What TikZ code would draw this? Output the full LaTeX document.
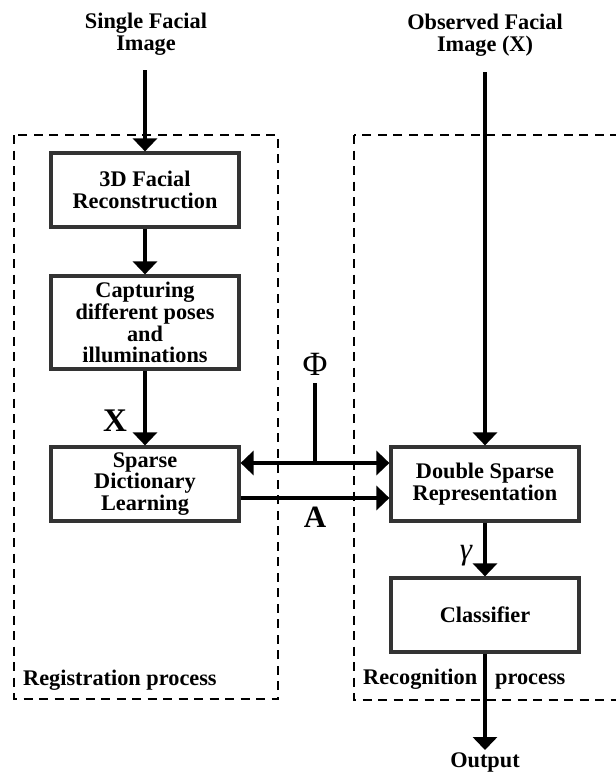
\documentclass[tikz,border=0pt]{standalone}
\usepackage{fontspec}
\setmainfont{Liberation Serif}
\usetikzlibrary{arrows.meta}
\begin{document}
\begin{tikzpicture}[x=1pt,y=-1pt,
  box/.style={draw=black!80, line width=3.2pt, fill=white, minimum width=188pt, minimum height=74pt,
    align=center, inner sep=0pt, font=\bfseries\fontsize{22.3}{21.8}\selectfont},
  lab/.style={align=center, inner sep=0pt, font=\bfseries\fontsize{22.3}{22.5}\selectfont},
  tip/.tip={Triangle[width=24pt,length=13pt]},
  conn/.style={line width=3.3pt, -tip},
  plain/.style={line width=3.3pt},
  fence/.style={line width=1.8pt, dash pattern=on 9pt off 6.5pt}]
\useasboundingbox (0,0) rectangle (616,772);
\clip (0,0) rectangle (616,772);
\fill[white] (0,0) rectangle (616,772);
% process regions
\draw[fence] (14,135) rectangle (278,699);
\draw[fence] (354,135) rectangle (650,700);
% titles
\node[lab] (t1) at (146,34) {Single Facial\\Image};
\node[lab] (t2) at (485,35) {Observed Facial\\Image (X)};
% boxes
\node[box] (rec) at (145,190) {3D Facial\\Reconstruction};
\node[box, minimum height=93pt] (cap) at (145,322.5) {Capturing\\different poses\\and\\illuminations};
\node[box] (sdl) at (145,484) {Sparse\\Dictionary\\Learning};
\node[box] (dsr) at (485,484) {Double Sparse\\Representation};
\node[box] (cls) at (485,615) {Classifier};
% free ends
\coordinate (s1) at (145,70);
\coordinate (s2) at (485,72);
\coordinate (out) at (485,750);
\coordinate (ptop) at (315,383);
\coordinate (pj) at (315,463);
\node[lab, anchor=base] (outl) at (485,767) {Output};
% connectors
\draw[conn] (s1) -- (rec);
\draw[conn] (rec) -- (cap);
\draw[conn] (cap) -- (sdl);
\draw[conn] (s2) -- (dsr);
\draw[conn] (dsr) -- (cls);
\draw[conn] (cls) -- (out);
\draw[line width=3.3pt, tip-tip] ([yshift=21pt]sdl.east) -- ([yshift=21pt]dsr.west);
\draw[plain] (ptop) -- (pj);
\draw[conn] ([yshift=-14pt]sdl.east) -- ([yshift=-14pt]dsr.west);
% symbols
\node[inner sep=0pt, font=\bfseries\fontsize{33}{33}\selectfont] (xl) at (115,421) {X};
\node[inner sep=0pt, font=\fontsize{34}{34}\selectfont] (phi) at (315,364) {Φ};
\node[inner sep=0pt, font=\bfseries\fontsize{31}{31}\selectfont] (al) at (315,517) {A};
\node[inner sep=0pt, font=\itshape\fontsize{31}{31}\selectfont] (gl) at (466,556) {γ};
% region labels
\node[lab, anchor=base west] (regl) at (23,685) {Registration process};
\node[lab, anchor=base west] (recl) at (363,684) {Recognition\hspace{18pt}process};
\end{tikzpicture}
\end{document}
